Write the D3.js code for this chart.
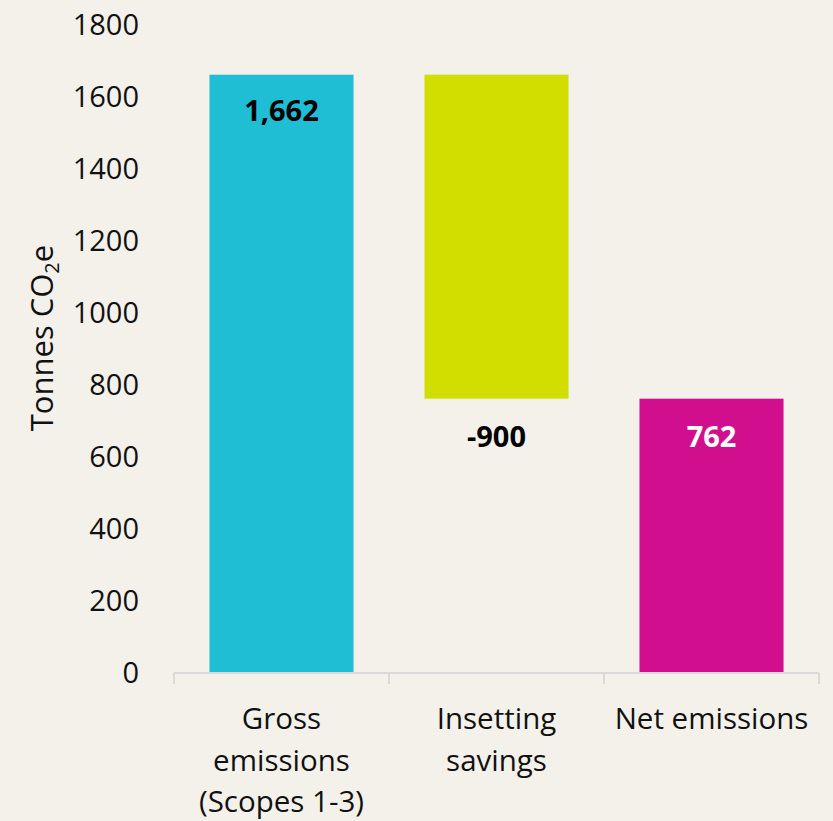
<!DOCTYPE html>
<html>
<head>
<meta charset="utf-8">
<script src="https://cdn.jsdelivr.net/npm/d3@7"></script>
<style>
  body { margin: 0; background: #f4f1eb; }
  svg { display: block; font-family: "Open Sans", "Noto Sans", sans-serif; }
</style>
</head>
<body>
<svg id="chart" width="833" height="821"></svg>
<script>
const categories = ['Gross emissions (Scopes 1-3)', 'Insetting savings', 'Net emissions']
const categoryLines = [['Gross', 'emissions', '(Scopes 1-3)'], ['Insetting', 'savings'], ['Net emissions']]
const barStart = [0, 1662, 0]
const barEnd = [1662, 762, 762]
const barLabels = ['1,662', '-900', '762']
const barColors = ['#20bed5', '#d2de00', '#d10f8e']
const yTicks = [0, 200, 400, 600, 800, 1000, 1200, 1400, 1600, 1800]

const svg = d3.select('#chart')

const x = d3.scaleBand()
    .domain(categories)
    .range([174, 819])
    .paddingInner(0.33)
    .paddingOuter(0.165)

const y = d3.scaleLinear().domain([0, 1800]).range([673, 25])

// y axis labels only
const yAxis = svg.append('g')
    .attr('transform', 'translate(150,0)')
    .call(d3.axisLeft(y).tickValues(yTicks).tickFormat(d3.format('d')).tickSize(0).tickPadding(11))
yAxis.select('.domain').remove()
yAxis.selectAll('text')
    .attr('font-size', 29)
    .attr('fill', '#111')
    .attr('font-family', '"Open Sans", sans-serif')

// bars
svg.append('g').selectAll('rect')
    .data(categories)
    .join('rect')
    .attr('x', d => x(d))
    .attr('width', x.bandwidth())
    .attr('y', (d, i) => y(Math.max(barStart[i], barEnd[i])))
    .attr('height', (d, i) => Math.abs(y(barStart[i]) - y(barEnd[i])))
    .attr('fill', (d, i) => barColors[i])

// x axis line and boundary ticks
const bounds = [174, 389, 604, 819]
svg.append('line')
    .attr('x1', 174).attr('x2', 819)
    .attr('y1', y(0)).attr('y2', y(0))
    .attr('stroke', '#d9d9d9').attr('stroke-width', 2)
svg.append('g').selectAll('line')
    .data(bounds)
    .join('line')
    .attr('x1', d => d).attr('x2', d => d)
    .attr('y1', y(0)).attr('y2', y(0) + 11)
    .attr('stroke', '#d9d9d9').attr('stroke-width', 2)

// category labels
svg.append('g').selectAll('text')
    .data(categories)
    .join('text')
    .attr('text-anchor', 'middle')
    .attr('font-size', 29.5)
    .attr('fill', '#111')
    .each(function (d, i) {
        const t = d3.select(this)
        categoryLines[i].forEach((line, j) => {
            t.append('tspan')
                .attr('x', x(d) + x.bandwidth() / 2)
                .attr('y', 729 + j * 41.5)
                .text(line)
        })
    })

// value labels
const labelY = [y(1662) + 46, y(762) + 48, y(762) + 48]
const labelFill = ['#000', '#000', '#fff']
svg.append('g').selectAll('text')
    .data(categories)
    .join('text')
    .attr('x', d => x(d) + x.bandwidth() / 2)
    .attr('y', (d, i) => labelY[i])
    .attr('text-anchor', 'middle')
    .attr('font-size', 29)
    .attr('font-weight', 'bold')
    .attr('fill', (d, i) => labelFill[i])
    .text((d, i) => barLabels[i])

// y title
const title = svg.append('text')
    .attr('transform', 'translate(53,338) rotate(-90)')
    .attr('text-anchor', 'middle')
    .attr('font-size', 31)
    .attr('fill', '#111')
title.append('tspan').text('Tonnes CO')
title.append('tspan').attr('font-size', 20).attr('dy', 6).text('2')
title.append('tspan').attr('dy', -6).text('e')
</script>
</body>
</html>
